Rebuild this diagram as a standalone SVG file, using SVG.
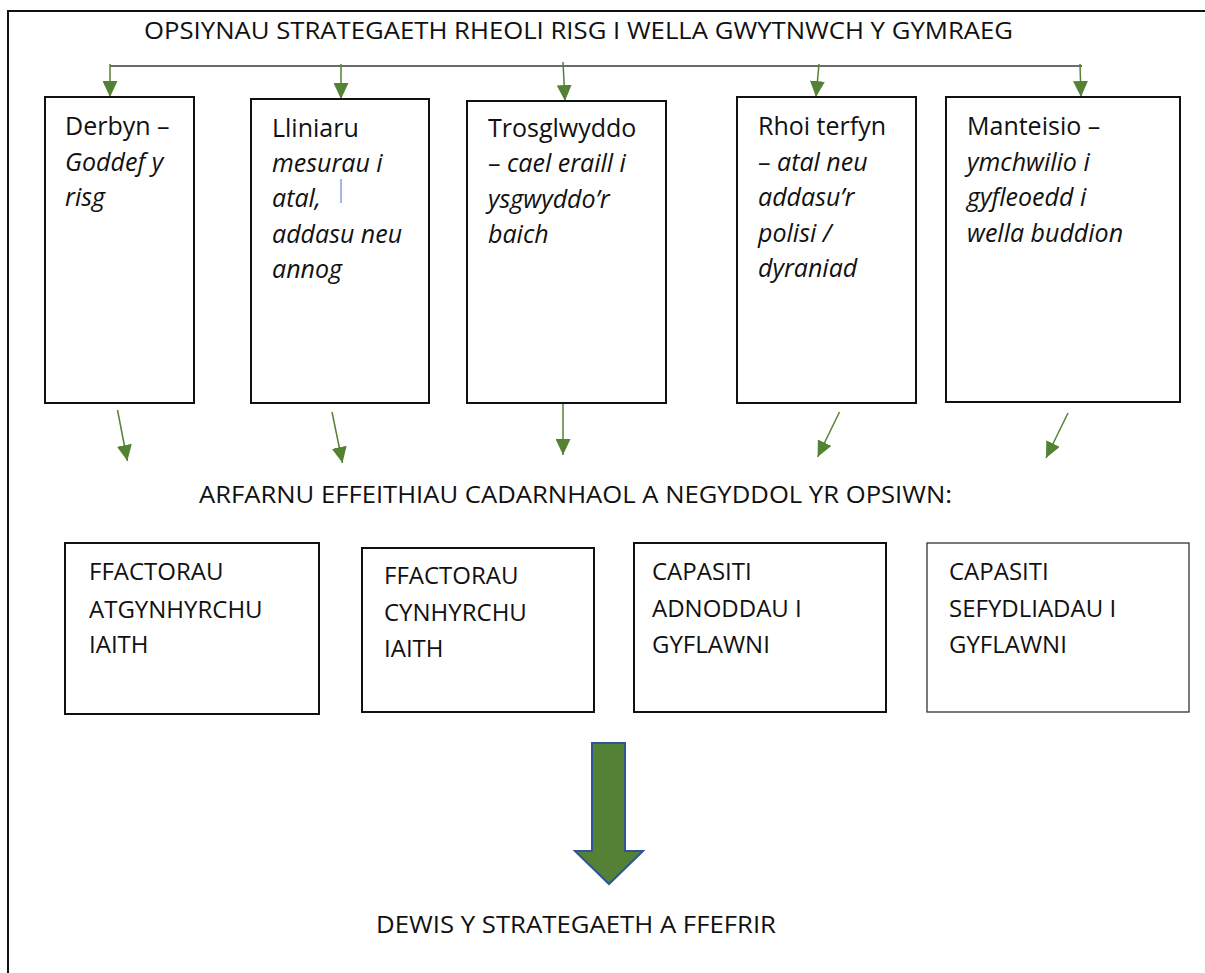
<svg xmlns="http://www.w3.org/2000/svg" width="1205" height="973" viewBox="0 0 1205 973">
<style>
.t{font-family:"Open Sans","Liberation Sans",sans-serif;font-size:24px;fill:#111}
.u{font-size:25px}
.i{font-style:italic}
.box{fill:#fff;stroke:#111;stroke-width:2}
.box2{fill:#fff;stroke:#333;stroke-width:1.3}
.conn{stroke:#548235;stroke-width:1.5;fill:none}
</style>
<defs>
<marker id="ah" markerUnits="userSpaceOnUse" markerWidth="17" markerHeight="15" refX="16" refY="7.5" orient="auto">
<path d="M0,0 L16,7.5 L0,15 z" fill="#548235"/>
</marker>
</defs>
<rect x="0" y="0" width="1205" height="973" fill="#fff"/>
<rect x="8" y="11" width="1220" height="1000" fill="none" stroke="#111" stroke-width="2"/>
<text class="t" x="144" y="39" textLength="869" lengthAdjust="spacingAndGlyphs">OPSIYNAU STRATEGAETH RHEOLI RISG I WELLA GWYTNWCH Y GYMRAEG</text>

<g id="connectors">
<line x1="110" y1="66" x2="1082" y2="66" stroke="#3a3a3a" stroke-width="1.6"/>
<line class="conn" x1="110" y1="64" x2="110" y2="97" marker-end="url(#ah)"/>
<line class="conn" x1="341" y1="64" x2="341" y2="99" marker-end="url(#ah)"/>
<line class="conn" x1="563" y1="62" x2="565" y2="101" marker-end="url(#ah)"/>
<line class="conn" x1="819" y1="64" x2="816" y2="97" marker-end="url(#ah)"/>
<line class="conn" x1="1080" y1="64" x2="1081" y2="97" marker-end="url(#ah)"/>
<line class="conn" x1="117.5" y1="410" x2="127.4" y2="461" marker-end="url(#ah)"/>
<line class="conn" x1="332" y1="412" x2="342.5" y2="463" marker-end="url(#ah)"/>
<line class="conn" x1="563" y1="403" x2="563" y2="455" marker-end="url(#ah)"/>
<line class="conn" x1="839.5" y1="412" x2="817.6" y2="457" marker-end="url(#ah)"/>
<line class="conn" x1="1068" y1="413" x2="1046" y2="458" marker-end="url(#ah)"/>
</g>

<g id="n-derbyn">
<rect class="box" x="45" y="97" width="149" height="306"/>
<text class="t u" x="65" y="135">Derbyn –</text>
<text class="t u i" x="65" y="171">Goddef y</text>
<text class="t u i" x="65" y="206">risg</text>
</g>
<g id="n-lliniaru">
<rect class="box" x="251" y="99" width="178" height="304"/>
<text class="t u" x="272" y="137">Lliniaru</text>
<text class="t u i" x="272" y="172">mesurau i</text>
<text class="t u i" x="272" y="207">atal,</text>
<text class="t u i" x="272" y="243">addasu neu</text>
<text class="t u i" x="272" y="278">annog</text>
<line x1="341" y1="179" x2="341" y2="203" stroke="#4472C4" stroke-width="1"/>
</g>
<g id="n-trosglwyddo">
<rect class="box" x="467" y="101" width="199" height="302"/>
<text class="t u" x="488" y="137">Trosglwyddo</text>
<text class="t u" x="488" y="172">– <tspan class="i">cael eraill i</tspan></text>
<text class="t u i" x="488" y="208">ysgwyddo’r</text>
<text class="t u i" x="488" y="243">baich</text>
</g>
<g id="n-rhoi">
<rect class="box" x="737" y="97" width="179" height="306"/>
<text class="t u" x="758" y="135">Rhoi terfyn</text>
<text class="t u" x="758" y="171">– <tspan class="i">atal neu</tspan></text>
<text class="t u i" x="758" y="206">addasu’r</text>
<text class="t u i" x="758" y="242">polisi /</text>
<text class="t u i" x="758" y="277">dyraniad</text>
</g>
<g id="n-manteisio">
<rect class="box" x="946" y="97" width="234" height="305"/>
<text class="t u" x="967" y="135">Manteisio –</text>
<text class="t u i" x="967" y="171">ymchwilio i</text>
<text class="t u i" x="967" y="206">gyfleoedd i</text>
<text class="t u i" x="967" y="242">wella buddion</text>
</g>

<text class="t" x="199" y="503" textLength="753" lengthAdjust="spacingAndGlyphs">ARFARNU EFFEITHIAU CADARNHAOL A NEGYDDOL YR OPSIWN:</text>

<g id="n-atgynhyrchu">
<rect class="box" x="65" y="543" width="254" height="171"/>
<text class="t" x="89" y="580">FFACTORAU</text>
<text class="t" x="89" y="618">ATGYNHYRCHU</text>
<text class="t" x="89" y="653">IAITH</text>
</g>
<g id="n-cynhyrchu">
<rect class="box" x="362" y="548" width="232" height="164"/>
<text class="t" x="384" y="584">FFACTORAU</text>
<text class="t" x="384" y="621">CYNHYRCHU</text>
<text class="t" x="384" y="657">IAITH</text>
</g>
<g id="n-adnoddau">
<rect class="box" x="634" y="543" width="252" height="169"/>
<text class="t" x="652" y="580">CAPASITI</text>
<text class="t" x="652" y="617">ADNODDAU I</text>
<text class="t" x="652" y="653">GYFLAWNI</text>
</g>
<g id="n-sefydliadau">
<rect class="box2" x="927" y="543" width="262" height="169"/>
<text class="t" x="949" y="580">CAPASITI</text>
<text class="t" x="949" y="617">SEFYDLIADAU I</text>
<text class="t" x="949" y="653">GYFLAWNI</text>
</g>

<g id="n-bigarrow">
<polygon points="592,743 625,743 625,851 643,851 609,884 575,851 592,851" fill="#538135" stroke="#2F5597" stroke-width="2"/>
</g>
<g id="n-dewis">
<text class="t" x="376" y="933" textLength="400" lengthAdjust="spacingAndGlyphs">DEWIS Y STRATEGAETH A FFEFRIR</text>
</g>
</svg>
